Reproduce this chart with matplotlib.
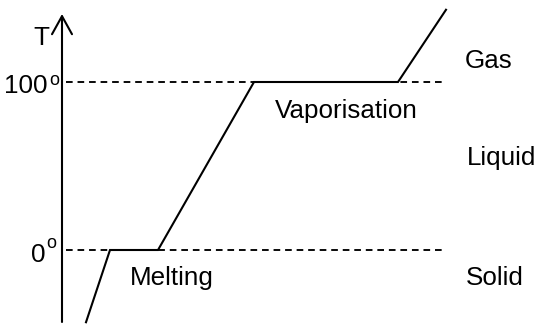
import matplotlib
matplotlib.use("Agg")
import matplotlib.pyplot as plt
from matplotlib.patches import FancyArrowPatch

plt.rcParams['font.family'] = ['Liberation Sans', 'DejaVu Sans']

# Data: heating curve (heat supplied in arbitrary units, temperature in degrees)
heat = [6, 12, 24, 48, 84, 96]
temp = [-43, 0, 0, 100, 100, 143]
ref_temps = [0, 100]
ref_labels = ["0", "100"]
phase_labels = ["Solid", "Liquid", "Gas"]
change_labels = ["Melting", "Vaporisation"]

W, H = 539, 325
fig = plt.figure(figsize=(W / 100, H / 100), dpi=100)
ax = fig.add_axes([0, 0, 1, 1])

# pixel <-> data mapping (x: 4 px per unit from x=62 ; y: 1.68 px per degree, 0 deg at y=250)
def px_x(p):
    return (p - 62) / 4.0

def px_y(p):
    return (250 - p) / 1.68

ax.set_xlim(px_x(0), px_x(W))
ax.set_ylim(px_y(H), px_y(0))
ax.axis('off')

# dashed reference lines
for t in ref_temps:
    ax.plot([px_x(66), px_x(446)], [t, t], color='black', lw=1.35,
            dashes=(3.55, 2.6), dash_capstyle='butt')

# curve
ax.plot(heat, temp, color='black', lw=1.5, solid_joinstyle='miter')

# vertical axis with open arrowhead
arrow = FancyArrowPatch((0, px_y(322)), (0, px_y(14)),
                        arrowstyle='->,head_length=13,head_width=7.2',
                        mutation_scale=1, lw=1.5, color='black',
                        shrinkA=0, shrinkB=0)
ax.add_patch(arrow)

fs = 18.7
ax.text(px_x(33), px_y(45), "T", fontsize=fs, ha='left', va='baseline')

# temperature labels with small superscript 'o'
ax.text(px_x(48), px_y(93), ref_labels[1], fontsize=fs, ha='right', va='baseline')
ax.text(px_x(49), px_y(85), "o", fontsize=13, ha='left', va='baseline')
ax.text(px_x(45), px_y(262), ref_labels[0], fontsize=fs, ha='right', va='baseline')
ax.text(px_x(46), px_y(248), "o", fontsize=13, ha='left', va='baseline')

# phase-change labels
ax.text(px_x(130), px_y(285), change_labels[0], fontsize=fs, ha='left', va='baseline')
ax.text(px_x(275), px_y(118), change_labels[1], fontsize=fs, ha='left', va='baseline')

# phase labels
ax.text(px_x(466), px_y(285), phase_labels[0], fontsize=fs, ha='left', va='baseline')
ax.text(px_x(467), px_y(165), phase_labels[1], fontsize=fs, ha='left', va='baseline')
ax.text(px_x(465), px_y(68), phase_labels[2], fontsize=fs, ha='left', va='baseline')

fig.savefig("out.png", dpi=100, facecolor='white')
